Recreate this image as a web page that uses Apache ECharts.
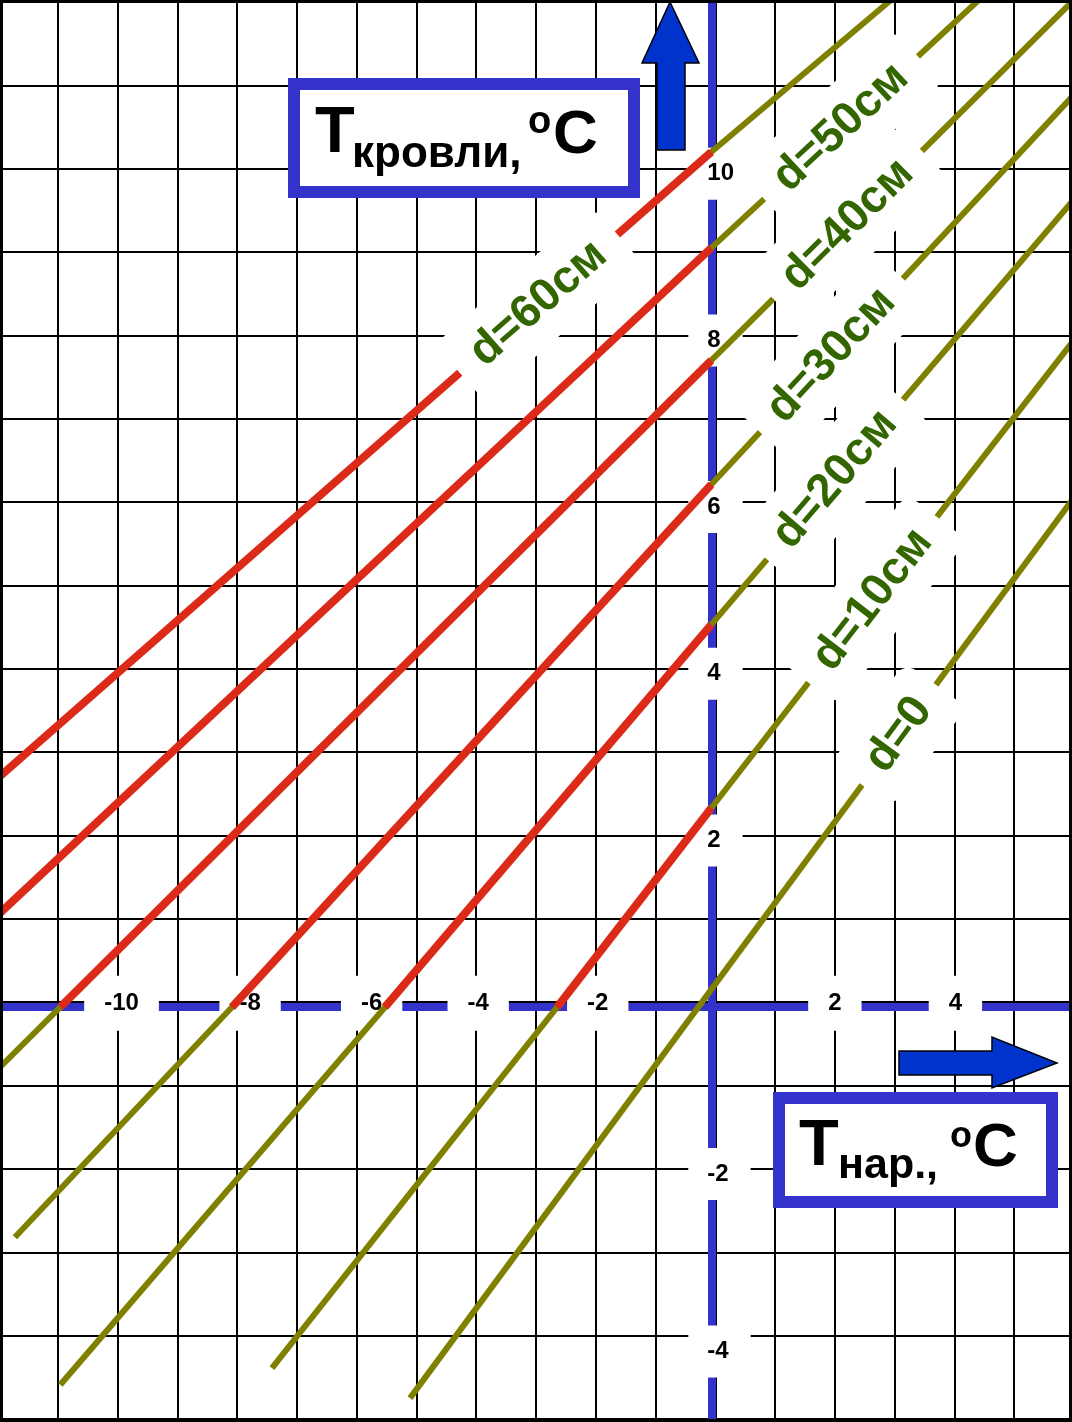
<!DOCTYPE html>
<html>
<head>
<meta charset="utf-8">
<script src="https://cdn.jsdelivr.net/npm/echarts@6/dist/echarts.min.js"></script>
<style>
html,body{margin:0;padding:0;background:#fff;}
#c{width:1072px;height:1422px;}
</style>
</head>
<body>
<div id="c"></div>
<script>
// ---------------- data: [T нар., °C , T кровли, °C] ----------------
const seriesNames = ['d=0', 'd=10см', 'd=20см', 'd=30см', 'd=40см', 'd=50см', 'd=60см'];
const d0  = [[-5.04, -4.69], [6.03, 6.08]];
const d10 = [[-7.35, -4.33], [-2.58, 0], [0, 2.39], [6.03, 7.97]];
const d20 = [[-10.89, -4.53], [-5.46, 0], [0, 4.59], [6.03, 9.66]];
const d30 = [[-11.65, -2.76], [-8.02, 0], [0, 6.27], [6.03, 10.92]];
const d40 = [[-11.90, -0.72], [-10.89, 0], [0, 7.76], [6.03, 12.06]];
const d50 = [[-11.90, 1.13], [0, 9.11], [4.47, 12.08]];
const d60 = [[-11.90, 2.77], [0, 10.26], [3.00, 12.08]];
const xTickLabels = [-10, -8, -6, -4, -2, 2, 4];
const yTickLabels = [10, 8, 6, 4, 2, -2, -4];

// ---------------- layout / style ----------------
const lines = [d0, d10, d20, d30, d40, d50, d60];
const labelAlongX = [3.14, 2.70, 2.07, 2.01, 2.28, 2.17, -2.89];   // where each "d=" label sits on its line
const xLabelShift = [8, 17, 19, 6, 6, 4, 5];                       // small horizontal offsets of tick labels (px)
const yLabelShift = [0, 0, 0, 0, 0, 0, 11];                        // small vertical offsets of tick labels (px)
const OLIVE = '#808000', RED = '#DC2A18', BLUE = '#3333CC', GREEN = '#336600', ARROW = '#0033CC';
const FONT = '"Liberation Sans", Arial, Helvetica, sans-serif';
const PX = 1076 / 18, PY = 1417 / 17;          // pixels per unit
const OX = 711.3, OY = 1007.2;                  // where the blue axes cross
const X1MIN = -12, X1MAX = 6.1, Y1MIN = -5.05, Y1MAX = 12.1;

function yOnLine(pts, x) {
  for (let i = 0; i < pts.length - 1; i++) {
    const a = pts[i], b = pts[i + 1];
    if (x >= a[0] && x <= b[0]) return a[1] + (b[1] - a[1]) * (x - a[0]) / (b[0] - a[0]);
  }
  return pts[pts.length - 1][1];
}
function slopeAt(pts, x) {
  for (let i = 0; i < pts.length - 1; i++) {
    const a = pts[i], b = pts[i + 1];
    if (x >= a[0] && x <= b[0]) return (b[1] - a[1]) / (b[0] - a[0]);
  }
  const a = pts[0], b = pts[pts.length - 1];
  return (b[1] - a[1]) / (b[0] - a[0]);
}

const tickLabelStyle = {
  show: true, position: 'inside',
  fontSize: 24, fontWeight: 'bold', fontFamily: FONT, color: '#000', lineHeight: 24,
  backgroundColor: '#fff'
};

const series = [];
// blue axes through the origin
series.push({
  type: 'line', name: 'axes', xAxisIndex: 1, yAxisIndex: 1, data: [], silent: true, z: 1,
  markLine: {
    silent: true, z: 1, symbol: ['none', 'none'], label: { show: false }, animation: false,
    lineStyle: { type: 'solid', color: BLUE, width: 8, opacity: 1 },
    emphasis: { disabled: true },
    data: [{ xAxis: 0 }, { yAxis: 0 }]
  }
});
// tick labels on the axes
series.push({
  type: 'scatter', name: 'xticks', xAxisIndex: 1, yAxisIndex: 1, z: 2, silent: true,
  symbolSize: 0, itemStyle: { color: '#fff', opacity: 1 },
  data: xTickLabels.map((v, i) => ({ value: [v, 0], label: { offset: [xLabelShift[i], -4] } })),
  label: Object.assign({}, tickLabelStyle, { align: 'center', verticalAlign: 'middle', padding: [16, 20, 15, 20],
    formatter: p => String(p.value[0]) })
});
series.push({
  type: 'scatter', name: 'yticks', xAxisIndex: 1, yAxisIndex: 1, z: 2, silent: true,
  symbolSize: 0, itemStyle: { color: '#fff', opacity: 1 },
  data: yTickLabels.map((v, i) => ({ value: [0, v], label: { offset: [-23, yLabelShift[i]] } })),
  label: Object.assign({}, tickLabelStyle, { align: 'left', verticalAlign: 'middle', padding: [14, 22, 14, 19],
    formatter: p => String(p.value[1]) })
});
// the lines: olive everywhere, red where T нар. < 0 and T кровли > 0
lines.forEach((pts, i) => {
  series.push({
    type: 'line', name: seriesNames[i], xAxisIndex: 1, yAxisIndex: 1, data: pts,
    symbol: 'none', clip: false, silent: true, z: 3,
    lineStyle: { color: OLIVE, width: 6 }
  });
  const red = pts.filter(p => p[0] <= 0 && p[1] >= 0);
  if (red.length > 1) {
    series.push({
      type: 'line', name: seriesNames[i] + ' (T>0)', xAxisIndex: 1, yAxisIndex: 1, data: red,
      symbol: 'none', clip: false, silent: true, z: 4,
      lineStyle: { color: RED, width: 8 }
    });
  }
});
// "d=..." labels sitting on the lines
series.push({
  type: 'scatter', name: 'dlabels', xAxisIndex: 1, yAxisIndex: 1, z: 6, silent: true,
  symbolSize: 0, itemStyle: { color: '#fff', opacity: 1 },
  data: seriesNames.map((n, i) => {
    const x = labelAlongX[i];
    const ang = Math.atan(slopeAt(lines[i], x) * PY / PX) * 180 / Math.PI;
    return { name: n, value: [x, yOnLine(lines[i], x)], label: { rotate: ang } };
  }),
  label: {
    show: true, position: 'inside', formatter: p => p.name, opacity: 1,
    fontSize: 46, fontWeight: 'bold', fontFamily: FONT, color: GREEN, lineHeight: 46,
    backgroundColor: '#fff', padding: [15, 22, 15, 22], borderRadius: 14
  }
});

const txt = (x, y, text, size) => ({
  type: 'text', z: 101, x: x, y: y, silent: true,
  style: { text: text, fontSize: size, fontWeight: 'bold', fontFamily: FONT, fill: '#000', align: 'left', verticalAlign: 'middle' }
});

const hiddenAxis = (gi, min, max) => ({
  gridIndex: gi, type: 'value', min: min, max: max, show: false,
  axisLine: { show: false }, axisTick: { show: false }, axisLabel: { show: false }, splitLine: { show: false }
});

const option = {
  animation: false,
  backgroundColor: '#fff',
  grid: [
    { left: -2, top: 2, width: 1076, height: 1417, containLabel: false, outerBoundsMode: 'none' },
    { left: OX + X1MIN * PX, top: OY - Y1MAX * PY, width: (X1MAX - X1MIN) * PX, height: (Y1MAX - Y1MIN) * PY,
      containLabel: false, outerBoundsMode: 'none' }
  ],
  xAxis: [
    {
      gridIndex: 0, type: 'value', min: -12, max: 6, interval: 1, z: 0,
      axisLine: { show: false }, axisTick: { show: false }, axisLabel: { show: false },
      splitLine: { show: true, lineStyle: { color: '#000', width: 2 } }
    },
    hiddenAxis(1, X1MIN, X1MAX)
  ],
  yAxis: [
    {
      gridIndex: 0, type: 'value', min: -5, max: 12, interval: 1, z: 0,
      axisLine: { show: false }, axisTick: { show: false }, axisLabel: { show: false },
      splitLine: { show: true, lineStyle: { color: '#000', width: 2 } }
    },
    hiddenAxis(1, Y1MIN, Y1MAX)
  ],
  series: series,
  graphic: {
    elements: [
      { type: 'rect', z: 100, silent: true, shape: { x: 294, y: 84, width: 340, height: 108 },
        style: { fill: '#fff', stroke: BLUE, lineWidth: 12 } },
      txt(315, 134.5, 'Т', 65),
      txt(352, 154.8, 'кровли,', 44),
      txt(528, 123, 'o', 38),
      txt(553, 135.5, 'C', 62),
      { type: 'rect', z: 100, silent: true, shape: { x: 779, y: 1098, width: 273, height: 104 },
        style: { fill: '#fff', stroke: BLUE, lineWidth: 12 } },
      txt(799, 1147.5, 'Т', 65),
      txt(838, 1166, 'нар.,', 43),
      txt(950, 1137.5, 'o', 36),
      txt(973, 1148.5, 'C', 62),
      { type: 'polygon', z: 100, silent: true,
        shape: { points: [[670, 2], [699, 63], [685, 63], [685, 150], [657, 150], [657, 63], [642, 63]] },
        style: { fill: ARROW, stroke: '#000', lineWidth: 1.5 } },
      { type: 'polygon', z: 100, silent: true,
        shape: { points: [[899, 1051], [992, 1051], [992, 1037], [1057, 1063], [992, 1088], [992, 1075], [899, 1075]] },
        style: { fill: ARROW, stroke: '#000', lineWidth: 1.5 } },
      { type: 'rect', z: 100, silent: true, shape: { x: 0, y: 0, width: 1072, height: 1422 },
        style: { fill: 'none', stroke: '#000', lineWidth: 6 } }
    ]
  }
};

const chart = echarts.init(document.getElementById('c'), null, { renderer: 'canvas', width: 1072, height: 1422 });
chart.setOption(option);
</script>
</body>
</html>
